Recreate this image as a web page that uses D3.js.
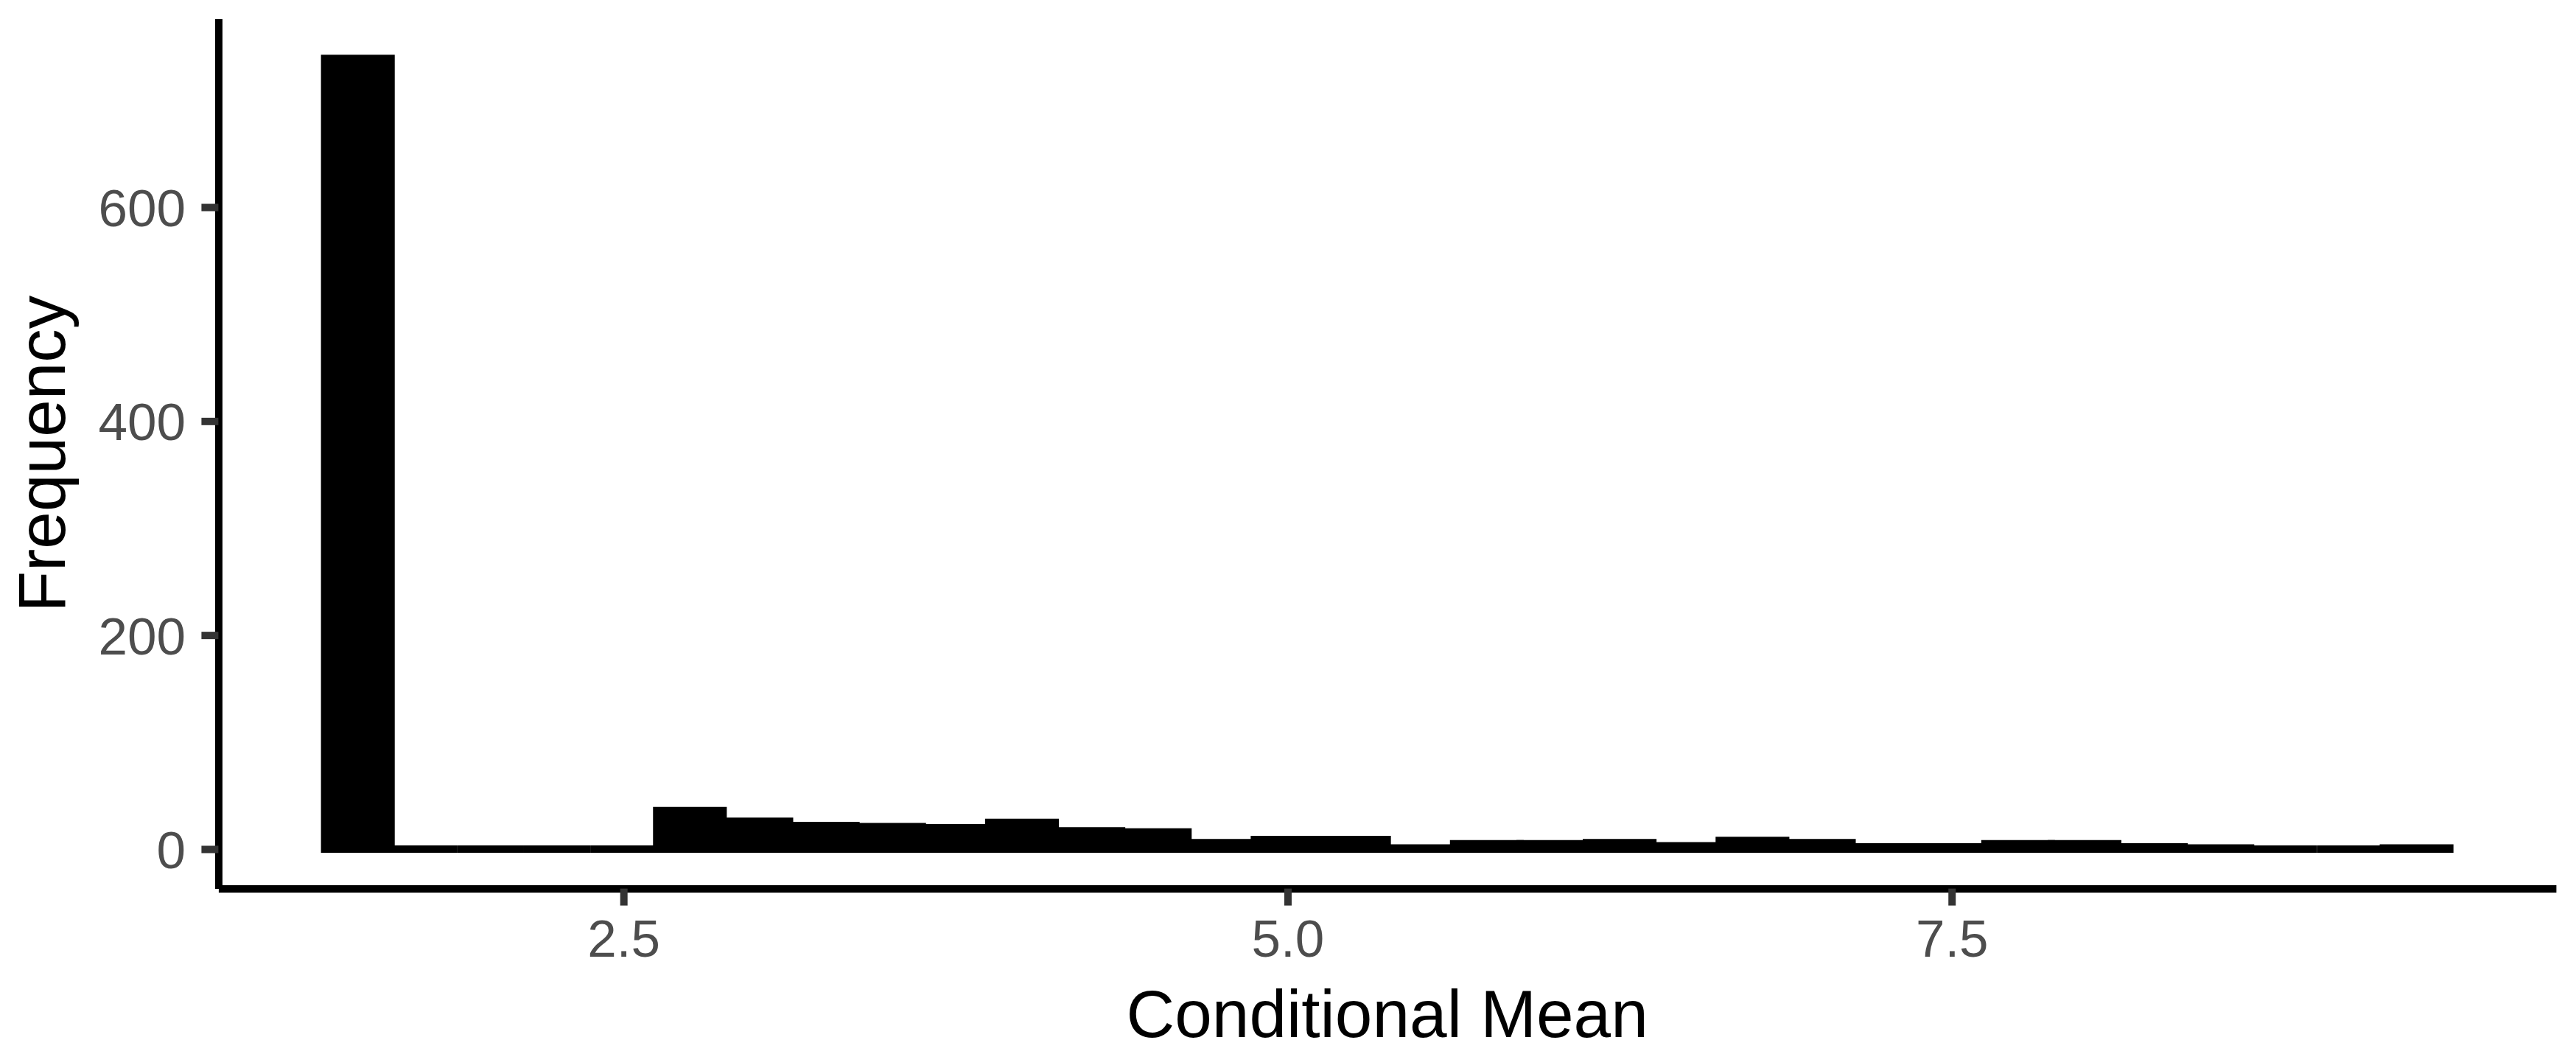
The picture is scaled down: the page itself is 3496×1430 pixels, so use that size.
<!DOCTYPE html>
<html>
<head>
<meta charset="utf-8">
<script src="https://cdn.jsdelivr.net/npm/d3@7"></script>
<style>
  html, body { margin: 0; padding: 0; background: #ffffff; }
  svg { display: block; }
</style>
</head>
<body>
<svg id="chart" width="3496" height="1430"></svg>
<script>
// ---- data ----
const binLeft = [1.375, 1.625, 1.875, 2.125, 2.375, 2.625, 2.875, 3.125,
                 3.375, 3.625, 3.875, 4.125, 4.375, 4.625, 4.875, 5.125,
                 5.375, 5.625, 5.875, 6.125, 6.375, 6.625, 6.875, 7.125,
                 7.375, 7.625, 7.875, 8.125, 8.375, 8.625, 8.875, 9.125];
const binWidth = 0.25;
const counts = [739, 0, 0, 0, 0, 36, 26, 22,
                21, 20, 25, 17, 16, 6, 9, 9,
                1, 5, 5, 6, 3, 8, 6, 2,
                2, 5, 5, 2, 1, 0, 0, 1];
const xTicks = [2.5, 5.0, 7.5];
const yTicks = [0, 200, 400, 600];
const xTitle = "Conditional Mean";
const yTitle = "Frequency";

// ---- layout ----
const panel = { left: 296.4, right: 3468.9, top: 25.6, bottom: 1205.6 };
const font = "'Liberation Sans', Arial, Helvetica, sans-serif";

const xMin = binLeft[0], xMax = binLeft[binLeft.length - 1] + binWidth;
const xPad = (xMax - xMin) * 0.05;
const yMax = d3.max(counts);
const yPad = yMax * 0.05;

const x = d3.scaleLinear().domain([xMin - xPad, xMax + xPad]).range([panel.left, panel.right]);
const y = d3.scaleLinear().domain([-yPad, yMax + yPad]).range([panel.bottom, panel.top]);

const svg = d3.select("#chart");

// bars (paths so that zero-height bins still show their outline)
svg.append("g")
  .selectAll("path")
  .data(binLeft.map((b, i) => ({ x0: b, x1: b + binWidth, n: counts[i] })))
  .join("path")
  .attr("d", d => {
    const p = d3.path();
    p.moveTo(x(d.x0), y(0));
    p.lineTo(x(d.x0), y(d.n));
    p.lineTo(x(d.x1), y(d.n));
    p.lineTo(x(d.x1), y(0));
    p.closePath();
    return p.toString();
  })
  .attr("fill", "#000000")
  .attr("stroke", "#000000")
  .attr("stroke-width", 10)
  .attr("stroke-linejoin", "miter");

// x axis
const gx = svg.append("g")
  .attr("transform", `translate(0,${panel.bottom})`)
  .call(d3.axisBottom(x).tickValues(xTicks).tickFormat(d3.format(".1f")).tickSize(23).tickSizeOuter(0));
gx.select(".domain").attr("stroke", "#000000").attr("stroke-width", 10).attr("stroke-linecap", "butt");
gx.selectAll(".tick line").attr("stroke", "#333333").attr("stroke-width", 10);
gx.selectAll(".tick text")
  .attr("y", 1298 - panel.bottom).attr("dy", 0)
  .attr("fill", "#4D4D4D").attr("font-size", 71).attr("font-family", font);

// y axis
const gy = svg.append("g")
  .attr("transform", `translate(${panel.left},0)`)
  .call(d3.axisLeft(y).tickValues(yTicks).tickFormat(d3.format("d")).tickSize(23).tickSizeOuter(0));
gy.select(".domain").attr("stroke", "#000000").attr("stroke-width", 10).attr("stroke-linecap", "butt");
gy.selectAll(".tick line").attr("stroke", "#333333").attr("stroke-width", 10);
gy.selectAll(".tick text")
  .attr("x", 252 - panel.left).attr("dy", "0.36em")
  .attr("text-anchor", "end")
  .attr("fill", "#4D4D4D").attr("font-size", 71).attr("font-family", font);

// titles
svg.append("text")
  .attr("x", (panel.left + panel.right) / 2)
  .attr("y", 1406.5)
  .attr("text-anchor", "middle")
  .attr("font-family", font).attr("font-size", 91).attr("fill", "#000000")
  .text(xTitle);

svg.append("text")
  .attr("transform", `translate(87.5,${(panel.top + panel.bottom) / 2}) rotate(-90)`)
  .attr("text-anchor", "middle")
  .attr("font-family", font).attr("font-size", 91).attr("fill", "#000000")
  .text(yTitle);
</script>
</body>
</html>
